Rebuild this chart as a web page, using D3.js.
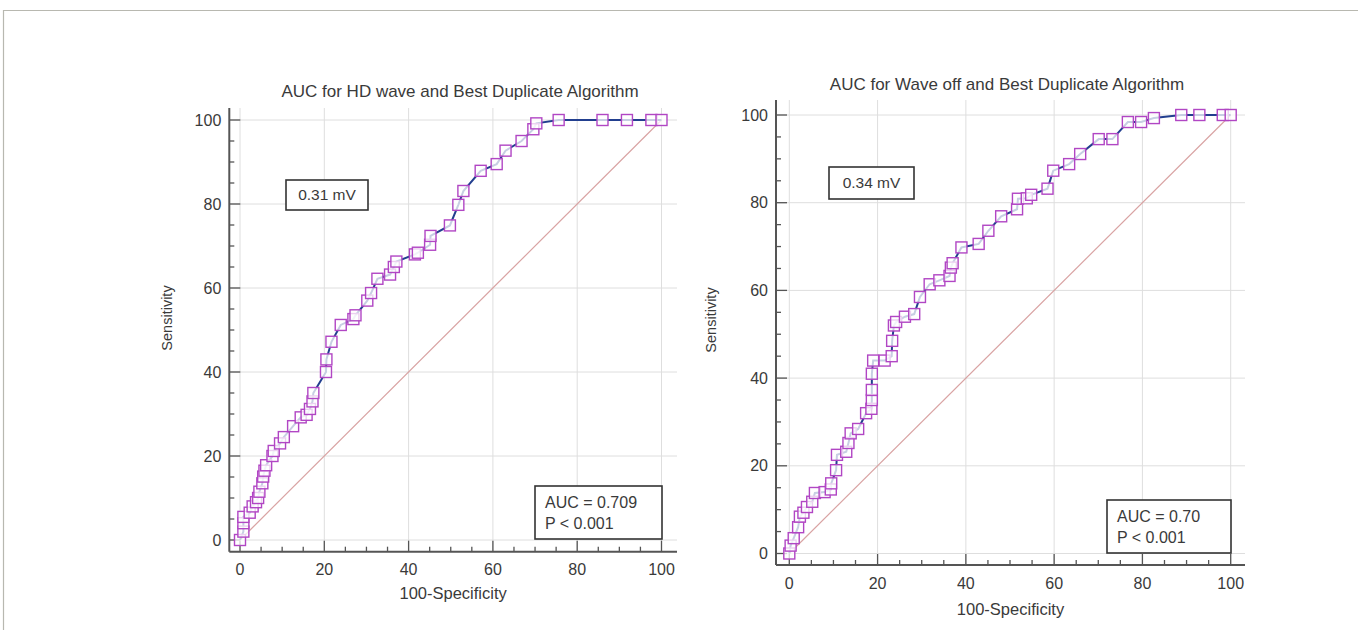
<!DOCTYPE html>
<html>
<head>
<meta charset="utf-8">
<script src="https://cdn.jsdelivr.net/npm/d3@7"></script>
<style>
  html, body { margin: 0; padding: 0; background: #fff; }
  svg { display: block; }
  text { font-family: Arial, "Liberation Sans", sans-serif; fill: #3a3a3a; }
</style>
</head>
<body>
<svg id="chart" width="1358" height="630"></svg>
<script>
// ---------------- data ----------------
const xTicks = [0, 20, 40, 60, 80, 100];
const yTicks = [0, 20, 40, 60, 80, 100];
const minorTicks = d3.range(0, 101, 5);

const leftTitle = "AUC for HD wave and Best Duplicate Algorithm";
const leftCutoff = "0.31 mV";
const leftStats = ["AUC = 0.709", "P < 0.001"];
const leftFpr  = [0, 0.8, 0.8, 0.8, 2.3, 3.0, 3.8, 4.3, 4.6, 5.3, 5.5, 5.8, 6.2, 7.7, 8.0, 9.5, 10.4, 12.6, 14.4, 15.8, 16.6, 17.2, 17.4, 20.4, 20.5, 21.7, 23.9, 26.9, 27.4, 30.2, 31.1, 32.6, 35.6, 36.5, 37.1, 41.5, 42.2, 45.1, 45.2, 49.8, 51.8, 53.0, 57.1, 60.9, 63.0, 66.8, 69.6, 70.3, 75.6, 86.0, 91.8, 97.6, 100];
const leftSens = [0, 2.0, 4.0, 5.5, 6.5, 8.0, 9.0, 10.0, 11.5, 13.5, 15.1, 16.5, 17.8, 20.0, 21.2, 23.0, 24.5, 27.1, 29.2, 29.8, 31.2, 33.0, 35.0, 40.0, 43.0, 47.2, 51.2, 52.6, 53.5, 57.0, 58.8, 62.2, 63.2, 65.0, 66.3, 68.0, 68.4, 70.3, 72.4, 74.9, 79.8, 83.1, 87.9, 89.5, 92.7, 95.0, 97.8, 99.2, 100, 100, 100, 100, 100];

const rightTitle = "AUC for Wave off and Best Duplicate Algorithm";
const rightCutoff = "0.34 mV";
const rightStats = ["AUC = 0.70", "P < 0.001"];
const rightFpr  = [0, 0.3, 1.0, 2.0, 2.4, 3.2, 4.0, 5.2, 5.8, 8.0, 9.4, 9.5, 10.6, 10.8, 12.9, 13.4, 13.9, 15.6, 17.4, 18.6, 18.7, 18.7, 18.7, 19.0, 21.6, 23.2, 23.3, 23.7, 24.2, 26.2, 28.3, 29.6, 31.8, 34.0, 36.3, 36.6, 37.0, 39.0, 42.9, 45.1, 48.0, 51.6, 51.8, 53.8, 54.8, 58.5, 59.8, 63.4, 65.9, 70.1, 73.2, 76.7, 79.7, 82.6, 88.8, 92.9, 98.2, 100];
const rightSens = [0, 1.8, 3.5, 6.0, 8.4, 9.3, 10.6, 11.8, 13.8, 14.0, 14.6, 16.0, 19.0, 22.5, 23.2, 25.2, 27.4, 28.4, 32.0, 33.0, 35.0, 37.3, 41.0, 44.0, 44.0, 45.0, 48.5, 52.0, 52.8, 54.0, 54.6, 58.5, 61.4, 62.3, 63.3, 65.2, 66.2, 69.8, 70.6, 73.6, 76.9, 78.5, 80.9, 81.0, 81.8, 83.2, 87.3, 88.8, 91.1, 94.5, 94.5, 98.4, 98.4, 99.3, 100, 100, 100, 100];

// ---------------- layout ----------------
const panels = [
  { title: leftTitle, cutoff: leftCutoff, stats: leftStats, fpr: leftFpr, sens: leftSens,
    x0: 240, x1: 661.5, y0: 540, y1: 120,
    axisX: 229.3, axisY: 551.7, axisXEnd: 677, axisYTop: 108,
    titleX: 460, titleY: 97,
    cutBox: [286, 180, 82, 30], statBox: [535, 486, 127, 53],
    xlabY: 599, ylabX: 172, ylabY: 318, tickLabY: 575 },
  { title: rightTitle, cutoff: rightCutoff, stats: rightStats, fpr: rightFpr, sens: rightSens,
    x0: 789.3, x1: 1230.7, y0: 553.5, y1: 115,
    axisX: 776, axisY: 565, axisXEnd: 1245, axisYTop: 100,
    titleX: 1007, titleY: 90,
    cutBox: [829, 167, 85, 32], statBox: [1107, 500, 124, 53],
    xlabY: 615, ylabX: 716, ylabY: 320, tickLabY: 589 }
];

const svg = d3.select("#chart");

// outer frame
svg.append("path")
  .attr("d", "M3.5,630 L3.5,10.5 L1358,10.5")
  .attr("fill", "none").attr("stroke", "#b8b8b0").attr("stroke-width", 1.2);

panels.forEach(p => {
  const x = d3.scaleLinear().domain([0, 100]).range([p.x0, p.x1]);
  const y = d3.scaleLinear().domain([0, 100]).range([p.y0, p.y1]);
  const g = svg.append("g");

  // gridlines
  g.append("g").selectAll("line").data(xTicks).join("line")
    .attr("x1", d => x(d)).attr("x2", d => x(d))
    .attr("y1", p.axisYTop).attr("y2", p.axisY)
    .attr("stroke", "#dedede").attr("stroke-width", 1);
  g.append("g").selectAll("line").data(yTicks).join("line")
    .attr("y1", d => y(d)).attr("y2", d => y(d))
    .attr("x1", p.axisX).attr("x2", p.axisXEnd)
    .attr("stroke", "#dedede").attr("stroke-width", 1);

  // axes lines
  g.append("line").attr("x1", p.axisX).attr("x2", p.axisXEnd)
    .attr("y1", p.axisY).attr("y2", p.axisY)
    .attr("stroke", "#555").attr("stroke-width", 2);
  g.append("line").attr("x1", p.axisX).attr("x2", p.axisX)
    .attr("y1", p.axisYTop).attr("y2", p.axisY)
    .attr("stroke", "#555").attr("stroke-width", 2);

  // ticks (inward)
  g.append("g").selectAll("line").data(minorTicks).join("line")
    .attr("x1", d => x(d)).attr("x2", d => x(d))
    .attr("y1", p.axisY).attr("y2", d => p.axisY - (d % 20 === 0 ? 11 : 5))
    .attr("stroke", "#555").attr("stroke-width", 1.3);
  g.append("g").selectAll("line").data(minorTicks).join("line")
    .attr("y1", d => y(d)).attr("y2", d => y(d))
    .attr("x1", p.axisX).attr("x2", d => p.axisX + (d % 20 === 0 ? 11 : 5))
    .attr("stroke", "#555").attr("stroke-width", 1.3);

  // tick labels
  g.append("g").selectAll("text").data(xTicks).join("text")
    .attr("x", d => x(d)).attr("y", p.tickLabY)
    .attr("text-anchor", "middle").attr("font-size", 16).text(d => d);
  g.append("g").selectAll("text").data(yTicks).join("text")
    .attr("x", p.axisX - 8).attr("y", d => y(d)).attr("dy", "0.35em")
    .attr("text-anchor", "end").attr("font-size", 16).text(d => d);

  // axis titles
  g.append("text").attr("x", (p.axisX + p.axisXEnd) / 2).attr("y", p.xlabY)
    .attr("text-anchor", "middle").attr("font-size", 16.5).text("100-Specificity");
  g.append("text").attr("transform", `translate(${p.ylabX},${p.ylabY}) rotate(-90)`)
    .attr("text-anchor", "middle").attr("font-size", 14.5).text("Sensitivity");

  // chart title
  g.append("text").attr("x", p.titleX).attr("y", p.titleY)
    .attr("text-anchor", "middle").attr("font-size", 17).text(p.title);

  // diagonal reference
  g.append("line").attr("x1", x(0)).attr("y1", y(0)).attr("x2", x(100)).attr("y2", y(100))
    .attr("stroke", "#d9a3a3").attr("stroke-width", 1.2);

  // ROC curve
  const pts = p.fpr.map((v, i) => [v, p.sens[i]]);
  g.append("path").datum(pts)
    .attr("d", d3.line().x(d => x(d[0])).y(d => y(d[1])))
    .attr("fill", "none").attr("stroke", "#223f8f").attr("stroke-width", 2);
  g.append("g").selectAll("rect").data(pts).join("rect")
    .attr("x", d => x(d[0]) - 5.5).attr("y", d => y(d[1]) - 5.5)
    .attr("width", 11).attr("height", 11)
    .attr("fill", "#fff").attr("fill-opacity", 0.75)
    .attr("stroke", "#b146c4").attr("stroke-width", 1.4);

  // cutoff box
  const cb = p.cutBox;
  g.append("rect").attr("x", cb[0]).attr("y", cb[1]).attr("width", cb[2]).attr("height", cb[3])
    .attr("fill", "#fff").attr("stroke", "#333").attr("stroke-width", 1.6);
  g.append("text").attr("x", cb[0] + cb[2] / 2).attr("y", cb[1] + cb[3] / 2).attr("dy", "0.35em")
    .attr("text-anchor", "middle").attr("font-size", 15.5).text(p.cutoff);

  // stats box
  const sb = p.statBox;
  g.append("rect").attr("x", sb[0]).attr("y", sb[1]).attr("width", sb[2]).attr("height", sb[3])
    .attr("fill", "#fff").attr("stroke", "#333").attr("stroke-width", 1.6);
  g.append("g").selectAll("text").data(p.stats).join("text")
    .attr("x", sb[0] + 10).attr("y", (d, i) => sb[1] + 22 + i * 21)
    .attr("font-size", 16).text(d => d);
});
</script>
</body>
</html>
